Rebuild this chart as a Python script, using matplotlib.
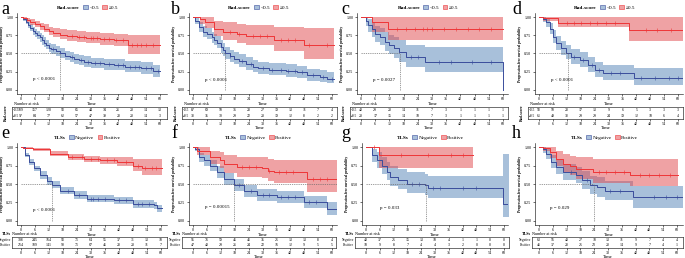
import numpy as np
import matplotlib.pyplot as plt
from matplotlib.patches import Patch
from matplotlib.lines import Line2D
from matplotlib.colors import to_rgba

plt.rcParams['font.family'] = ['Liberation Serif', 'DejaVu Serif']

# ---- data ----
times = [0, 6, 12, 18, 24, 30, 36, 42, 48, 54, 60]

# a : Rad-score, cohort 1
a_blue_t = [0, 1, 2, 3, 4, 5, 6, 7, 8, 9, 10, 11, 12, 13, 15, 17, 19, 21, 23, 25, 27, 30, 36, 40, 45, 52, 57]
a_blue_s = [1, .97, .93, .89, .85, .81, .78, .75, .72, .68, .65, .62, .58, .56, .53, .50, .47, .45, .43, .41, .39, .37, .35, .34, .32, .30, .26]
a_blue_lo = [1, .95, .90, .85, .81, .76, .73, .70, .66, .62, .59, .56, .52, .50, .47, .44, .41, .38, .36, .34, .32, .30, .28, .27, .25, .22, .18]
a_blue_up = [1, .99, .97, .93, .90, .86, .83, .81, .78, .75, .72, .69, .65, .63, .60, .57, .54, .52, .50, .48, .46, .44, .43, .42, .40, .38, .34]
a_blue_cens = [14, 22, 26, 29, 32, 34, 38, 42, 44, 47, 49, 51, 54, 56, 59]
a_red_t = [0, 1, 2.5, 4, 6, 8, 10, 12, 14, 17, 20, 24, 28, 34, 40, 46]
a_red_s = [1, .99, .96, .93, .90, .87, .84, .81, .78, .76, .74, .73, .71, .70, .68, .62]
a_red_lo = [1, .97, .93, .89, .86, .82, .79, .75, .72, .70, .67, .66, .64, .62, .60, .50]
a_red_up = [1, 1, .99, .97, .95, .92, .90, .87, .85, .83, .82, .81, .79, .78, .77, .75]
a_red_cens = [22, 25, 27, 30, 31, 33, 36, 38, 41, 44, 48, 50, 52, 54, 57]
a_risk_blue = [189, 157, 120, 93, 65, 44, 34, 26, 20, 14, 13]
a_risk_red = [97, 84, 77, 62, 57, 47, 39, 28, 20, 14, 3]

# b : Rad-score, cohort 2
b_blue_t = [0, 1, 2.5, 4.5, 6, 8, 9, 10.5, 12, 13, 14, 16, 17.5, 20, 23, 26, 28, 33, 40, 45, 49, 55, 58]
b_blue_s = [1, .95, .86, .80, .77, .72, .69, .65, .59, .55, .50, .46, .43, .40, .36, .32, .30, .28, .26, .24, .20, .18, .15]
b_blue_lo = [1, .91, .80, .73, .70, .64, .61, .57, .51, .47, .42, .38, .35, .32, .28, .24, .22, .20, .18, .16, .13, .11, .09]
b_blue_up = [1, .99, .93, .88, .85, .80, .77, .74, .68, .64, .59, .55, .52, .49, .45, .41, .39, .37, .35, .33, .29, .27, .24]
b_blue_cens = [16, 21, 25, 30, 34, 38, 41, 44, 47, 52, 56, 60]
b_red_t = [0, 3, 5, 9, 13, 19, 23, 35, 48]
b_red_s = [1, .97, .93, .84, .80, .77, .74, .68, .61]
b_red_lo = [1, .91, .85, .74, .69, .65, .61, .53, .42]
b_red_up = [1, 1, 1, .95, .93, .91, .89, .86, .85]
b_red_cens = [16, 20, 26, 29, 32, 38, 41, 44, 50, 58]
b_risk_blue = [87, 69, 50, 36, 28, 27, 19, 13, 11, 7, 4]
b_risk_red = [38, 35, 30, 29, 22, 20, 19, 12, 8, 2, 2]

# c : Rad-score, cohort 3
c_blue_t = [0, 2, 3, 4.5, 6, 8, 10, 12, 14, 16, 19, 27, 60]
c_blue_s = [1, .95, .89, .83, .77, .73, .66, .61, .57, .52, .45, .39, 0]
c_blue_lo = [1, .88, .80, .73, .66, .62, .54, .49, .44, .39, .31, .25, 0]
c_blue_up = [1, 1, .97, .93, .88, .85, .80, .76, .72, .68, .62, .59, 0]
c_blue_cens = [21, 24, 33, 38, 47, 55]
c_red_t = [0, 4.5, 11.5]
c_red_s = [1, .93, .83]
c_red_lo = [1, .80, .68]
c_red_up = [1, 1, 1]
c_red_cens = [15, 19, 23, 26, 28, 30, 35, 40, 45, 50, 55]
c_risk_blue = [40, 29, 20, 14, 11, 7, 3, 1, 1, 1, 1]
c_risk_red = [20, 17, 15, 14, 10, 7, 3, 1, 1, 1, 1]

# d : Rad-score, cohort 4
d_blue_t = [0, 1.7, 3.2, 4.6, 6, 7.5, 9.6, 11.8, 13.9, 17.5, 21, 24, 27.6, 41]
d_blue_s = [1, .97, .93, .84, .73, .64, .57, .51, .45, .41, .34, .27, .23, .17]
d_blue_lo = [1, .93, .87, .77, .65, .55, .48, .42, .36, .32, .25, .18, .14, .07]
d_blue_up = [1, 1, .98, .92, .82, .74, .67, .61, .56, .52, .45, .38, .34, .30]
d_blue_cens = [15, 19, 23, 26, 31, 35, 44, 50, 56, 60]
d_red_t = [0, 1.7, 8.2, 39]
d_red_s = [1, .98, .92, .82]
d_red_lo = [1, .94, .86, .67]
d_red_up = [1, 1, 1, 1]
d_red_cens = [12, 15, 18, 22, 25, 29, 33, 46, 51, 57]
d_risk_blue = [58, 50, 28, 17, 13, 9, 6, 5, 3, 3, 3]
d_risk_red = [61, 49, 38, 29, 29, 24, 19, 12, 10, 6, 4]

# e : TLSs, cohort 1
e_blue_t = [0, 1.9, 3.3, 5.4, 8.3, 11, 13.3, 16.9, 22.6, 28.3, 39.7, 48, 56.9, 58.3]
e_blue_s = [1, .89, .80, .71, .62, .54, .49, .41, .35, .30, .28, .23, .21, .17]
e_blue_lo = [1, .86, .76, .67, .57, .49, .44, .36, .30, .25, .23, .18, .16, .12]
e_blue_up = [1, .92, .84, .75, .67, .59, .54, .46, .40, .35, .33, .28, .26, .22]
e_blue_cens = [20, 25, 30, 31, 33, 36, 42, 45, 50, 52, 55]
e_red_t = [0, 1, 5, 12.5, 20, 27, 34, 41, 48, 52]
e_red_s = [1, .99, .97, .91, .86, .84, .82, .80, .75, .72]
e_red_lo = [1, .98, .95, .88, .82, .80, .77, .74, .67, .62]
e_red_up = [1, 1, .99, .94, .90, .88, .87, .86, .84, .84]
e_red_cens = [22, 26, 30, 33, 37, 40, 45, 50, 53, 56, 58]
e_risk_blue = [308, 245, 164, 93, 71, 64, 55, 37, 31, 13, 10]
e_risk_red = [214, 189, 141, 90, 71, 67, 45, 28, 20, 11, 7]

# f : TLSs, cohort 2
f_blue_t = [0, 1, 2.4, 4.6, 7.5, 10.4, 13.2, 17.6, 21.9, 27.6, 36.3, 47.8, 57.8]
f_blue_s = [1, .98, .86, .82, .75, .66, .57, .49, .41, .35, .32, .26, .16]
f_blue_lo = [1, .95, .80, .75, .68, .58, .49, .41, .33, .27, .24, .18, .08]
f_blue_up = [1, 1, .92, .89, .83, .74, .65, .57, .49, .43, .40, .34, .25]
f_blue_cens = [20, 25, 30, 33, 38, 41, 44, 50, 53]
f_red_t = [0, 1.7, 7.5, 11.8, 13.2, 19, 29.9, 32.2, 35.1, 49.2]
f_red_s = [1, .95, .86, .82, .77, .73, .72, .68, .66, .57]
f_red_lo = [1, .89, .77, .71, .65, .60, .58, .54, .51, .39]
f_red_up = [1, 1, .95, .93, .89, .87, .86, .84, .82, .82]
f_red_cens = [21, 24, 27, 33, 37, 40, 43, 52, 55, 58]
f_risk_blue = [95, 76, 59, 45, 41, 35, 25, 13, 13, 8, 4]
f_risk_red = [47, 40, 29, 26, 24, 22, 16, 12, 9, 5, 5]

# g : TLSs, cohort 3
g_blue_t = [0, 2.5, 4.6, 6.8, 9, 10.4, 14.1, 17.7, 25.7, 27.1, 59.7]
g_blue_s = [1, .89, .82, .75, .66, .59, .55, .50, .48, .45, .23]
g_blue_lo = [1, .80, .72, .64, .55, .47, .43, .38, .35, .31, .05]
g_blue_up = [1, .98, .93, .87, .80, .74, .70, .66, .64, .61, .91]
g_blue_cens = [20, 23, 29, 32, 42, 48]
g_red_t = [0, 5.8]
g_red_s = [1, .89]
g_red_lo = [1, .71]
g_red_up = [1, 1]
g_red_cens = [3.5, 15, 27, 37, 42]
g_risk_blue = [40, 37, 25, 15, 13, 10, 4, 1, 1, 0, 0]
g_risk_red = [10, 9, 8, 7, 4, 4, 3, 2, 0, 0, 0]

# h : TLSs, cohort 4
h_blue_t = [0, 1.7, 3.2, 5.4, 7.5, 10.5, 16.3, 18.5, 22.1, 25, 28.5, 41]
h_blue_s = [1, .97, .91, .80, .73, .66, .62, .55, .49, .46, .41, .32]
h_blue_lo = [1, .92, .84, .71, .63, .55, .51, .43, .37, .33, .28, .18]
h_blue_up = [1, 1, .98, .89, .83, .77, .73, .67, .61, .59, .54, .47]
h_blue_cens = [14, 21, 31, 35, 50, 55, 60]
h_red_t = [0, 1.7, 4.6, 7.5, 10.5, 13.4, 16.3, 23.6, 39.6]
h_red_s = [1, .99, .93, .84, .77, .74, .70, .66, .62]
h_red_lo = [1, .95, .85, .74, .66, .62, .57, .52, .47]
h_red_up = [1, 1, 1, .95, .90, .88, .86, .84, .84]
h_red_cens = [26, 29, 33, 37, 44, 48, 52, 57]
h_risk_blue = [63, 56, 40, 27, 18, 13, 11, 9, 7, 4, 4]
h_risk_red = [46, 37, 28, 25, 23, 20, 14, 9, 7, 4, 1]

# ---- drawing ----
W, H = 685, 258
fig = plt.figure(figsize=(6.85, 2.58), dpi=100)

BLUE, BLUE_F = '#3A4D9C', '#5383B7'
RED, RED_F = '#EE3537', '#E1474B'
X0 = -1.8


def rect(l, t, r, b):
    return [l / W, 1 - b / H, (r - l) / W, (b - t) / H]


def km(ax, t, s, lo, up, end, cens, col, fcol):
    tt = list(t) + [end]
    ax.fill_between(tt, list(lo) + [lo[-1]], list(up) + [up[-1]], step='post',
                    color=fcol, alpha=0.5, lw=0)
    ax.step(tt, list(s) + [s[-1]], where='post', color=col, lw=0.7)
    idx = np.searchsorted(t, cens, side='right') - 1
    ax.plot(cens, np.array(s)[idx], ls='none', marker='|', color=col, ms=2.2, mew=0.4)


def panel(letter, row, lx, zpx, mr, box_lr, blue, red, risk_b, risk_r,
          ptxt, pxy, median, hend, group, labels):
    if row == 1:
        mt, mb, tt, tb, ly = 13, 94, 107, 119, 1
    else:
        mt, mb, tt, tb, ly = 143, 225, 237, 248, 125
    z0, z60 = zpx
    ppu = (z60 - z0) / 60
    ml = z0 + X0 * ppu
    x1 = (mr - z0) / ppu
    ax = fig.add_axes(rect(ml, mt, mr, mb))
    km(ax, *blue, BLUE, BLUE_F)
    km(ax, *red, RED, RED_F)
    ax.plot([0, hend], [0.5, 0.5], color='#666666', lw=0.45, ls=(0, (2, 1.5)))
    ax.plot([median, median], [0, 0.5], color='#666666', lw=0.45, ls=(0, (2, 1.5)))
    ax.text(pxy[0], pxy[1], ptxt, fontsize=3.6)
    ax.set_xlim(X0, x1)
    ax.set_ylim(-0.055, 1.055)
    ax.set_xticks(times)
    ax.set_yticks([0, 0.25, 0.5, 0.75, 1.0])
    ax.set_yticklabels(['0.00', '0.25', '0.50', '0.75', '1.00'])
    ax.tick_params(labelsize=3, length=1.5, width=0.4, pad=1)
    for sp in ['top', 'right']:
        ax.spines[sp].set_visible(False)
    for sp in ['left', 'bottom']:
        ax.spines[sp].set_linewidth(0.4)
    ax.set_xlabel('Time', fontsize=3.4, labelpad=0.3)
    ax.set_ylabel('Progression-free survival probability', fontsize=2.6,
                  fontweight='bold', labelpad=1.5)
    handles = [Line2D([], [], ls='none'),
               Patch(facecolor=to_rgba(BLUE_F, 0.5), edgecolor=BLUE, lw=0.4),
               Patch(facecolor=to_rgba(RED_F, 0.5), edgecolor=RED, lw=0.4)]
    leg = ax.legend(handles, [group] + labels, ncol=3, loc='lower center',
                    bbox_to_anchor=(0.45, 1.01), frameon=False, fontsize=3.8,
                    handlelength=0.9, handleheight=0.9, handletextpad=0.3,
                    columnspacing=0.6, borderpad=0)
    leg.get_texts()[0].set_fontweight('bold')

    # risk table
    bl, br = box_lr
    tax = fig.add_axes(rect(bl, tt, br, tb))
    tax.set_xlim((bl - z0) / ppu, (br - z0) / ppu)
    tax.set_ylim(0, 2)
    for x, nb, nr in zip(times, risk_b, risk_r):
        tax.text(x, 1.5, str(nb), ha='center', va='center', fontsize=2.8)
        tax.text(x, 0.5, str(nr), ha='center', va='center', fontsize=2.8)
    tax.set_xticks(times)
    tax.set_yticks([])
    tax.tick_params(labelsize=3, length=1.2, width=0.4, pad=0.8)
    for sp in tax.spines.values():
        sp.set_linewidth(0.4)
    tax.set_xlabel('Time', fontsize=3.4, labelpad=0)
    tax.text(0.015 if row == 1 else 0.0, 1.08, 'Number at risk', transform=tax.transAxes,
             fontsize=3, va='bottom', ha='left')
    if row == 1:
        for y, lab in zip([1.5, 0.5], labels):
            tax.text(0.008, y / 2, lab, transform=tax.transAxes, fontsize=2.5,
                     va='center', ha='left')
        fig.text((bl - 6) / W, 1 - (tt + tb) / 2 / H, group, rotation=90,
                 fontsize=2.8, fontweight='bold', ha='center', va='center')
    else:
        for y, lab in zip([1.5, 0.5], labels):
            tax.text(-0.006, y / 2, lab, transform=tax.transAxes, fontsize=2.4,
                     va='center', ha='right')
        tax.text(-0.008, 1.08, group, transform=tax.transAxes, fontsize=3,
                 fontweight='bold', va='bottom', ha='right')

    fig.text(lx / W, 1 - ly / H, letter, fontsize=13, va='top', ha='left')


rad = ['<0.5', '≥0.5']
tls = ['Negative', 'Positive']

panel('a', 1, 1, (21, 160), 167, (12, 167),
      (a_blue_t, a_blue_s, a_blue_lo, a_blue_up, 60, a_blue_cens),
      (a_red_t, a_red_s, a_red_lo, a_red_up, 60, a_red_cens),
      a_risk_blue, a_risk_red, 'p < 0.0001', (5, 0.14), 17, 17, 'Rad-score', rad)
panel('b', 1, 171, (193, 332), 337, (182, 337),
      (b_blue_t, b_blue_s, b_blue_lo, b_blue_up, 61, b_blue_cens),
      (b_red_t, b_red_s, b_red_lo, b_red_up, 61, b_red_cens),
      b_risk_blue, b_risk_red, 'p < 0.0001', (5, 0.13), 14, 14, 'Rad-score', rad)
panel('c', 1, 341, (361, 503), 508, (350, 508),
      (c_blue_t, c_blue_s, c_blue_lo, c_blue_up, 60, c_blue_cens),
      (c_red_t, c_red_s, c_red_lo, c_red_up, 60, c_red_cens),
      c_risk_blue, c_risk_red, 'p = 0.0027', (5, 0.13), 16.5, 16.5, 'Rad-score', rad)
panel('d', 1, 512, (539, 678), 683, (528, 683),
      (d_blue_t, d_blue_s, d_blue_lo, d_blue_up, 62, d_blue_cens),
      (d_red_t, d_red_s, d_red_lo, d_red_up, 62, d_red_cens),
      d_risk_blue, d_risk_red, 'p < 0.0001', (5, 0.13), 12.5, 12.5, 'Rad-score', rad)
panel('e', 2, 1, (21, 161), 167, (12, 167),
      (e_blue_t, e_blue_s, e_blue_lo, e_blue_up, 60.5, e_blue_cens),
      (e_red_t, e_red_s, e_red_lo, e_red_up, 60.5, e_red_cens),
      e_risk_blue, e_risk_red, 'p < 0.0001', (5, 0.14), 13.3, 13.3, 'TLSs', tls)
panel('f', 2, 171, (193, 332), 337, (182, 336),
      (f_blue_t, f_blue_s, f_blue_lo, f_blue_up, 62, f_blue_cens),
      (f_red_t, f_red_s, f_red_lo, f_red_up, 62, f_red_cens),
      f_risk_blue, f_risk_red, 'p = 0.00015', (5, 0.17), 17.6, 62, 'TLSs', tls)
panel('g', 2, 341, (366, 504), 508, (355, 509),
      (g_blue_t, g_blue_s, g_blue_lo, g_blue_up, 62, g_blue_cens),
      (g_red_t, g_red_s, g_red_lo, g_red_up, 46.7, g_red_cens),
      g_risk_blue, g_risk_red, 'p = 0.033', (6, 0.16), 26, 26, 'TLSs', tls)
panel('h', 2, 512, (539, 677), 683, (532, 683),
      (h_blue_t, h_blue_s, h_blue_lo, h_blue_up, 62.5, h_blue_cens),
      (h_red_t, h_red_s, h_red_lo, h_red_up, 60.5, h_red_cens),
      h_risk_blue, h_risk_red, 'p = 0.029', (5, 0.16), 24, 24, 'TLSs', tls)

fig.savefig('out.png', dpi=100)
